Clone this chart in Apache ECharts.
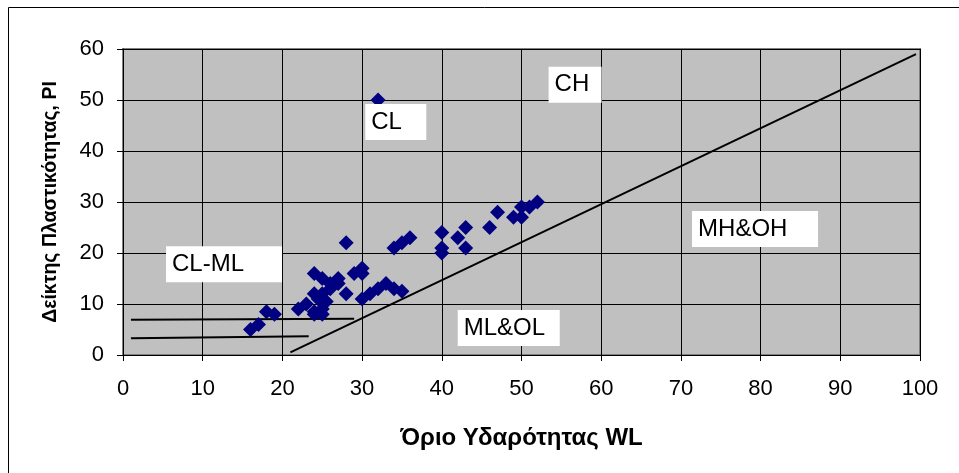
<!DOCTYPE html>
<html>
<head>
<meta charset="utf-8">
<script src="https://cdn.jsdelivr.net/npm/echarts@6/dist/echarts.min.js"></script>
<style>
  html, body { margin: 0; padding: 0; background: #fff; }
  #chart { width: 959px; height: 473px; }
</style>
</head>
<body>
<div id="chart"></div>
<script>
// Liquid limit (WL) of each sample
const liquidLimit = [16, 17, 18, 19, 22, 23, 24, 24, 25, 25, 24.5, 25.5, 24, 25, 26, 28, 24, 25, 27, 26, 27,
  29, 30, 30, 28, 30, 31, 32, 33, 34, 35, 34, 35, 36, 40, 40, 40, 42, 43, 43, 46, 47, 49, 50, 50, 51, 52, 32];
// Plasticity index (PI) of each sample
const plasticityIndex = [5, 6, 8.5, 8, 9, 10, 8, 8.5, 8, 9, 11, 10.5, 12, 12, 13, 12, 16, 15, 15, 14, 14,
  16, 17, 16, 22, 11, 12, 13, 14, 13, 12.5, 21, 22, 23, 24, 21, 20, 23, 25, 21, 25, 28, 27, 29, 27, 29, 30, 50];

// A-line and the two CL-ML boundary lines (end points in WL, PI)
const aLine = [[21, 0.5], [99.5, 59]];
const upperBoundary = [[1, 6.9], [29, 7.1]];
const lowerBoundary = [[1, 3.3], [23.3, 3.7]];

// Soil-group zone names and their anchor (left edge of the box) in WL, PI
const zoneNames = ['CH', 'CL', 'CL-ML', 'MH&OH', 'ML&OL'];
const zoneWL = [53.4, 30.4, 5.4, 71.4, 42.0];
const zonePI = [53.0, 45.7, 17.8, 24.7, 5.3];

const xTicks = [0, 100, 10];
const yTicks = [0, 60, 10];

const FONT = '"Liberation Sans", Arial, sans-serif';
const zoneBoxWidth = { 'CH': 47, 'CL': 55, 'CL-ML': 110, 'MH&OH': 120, 'ML&OL': 96 };

const samples = liquidLimit.map((x, i) => [x, plasticityIndex[i]]);
const zones = zoneNames.map((n, i) => ({
  name: n,
  value: [zoneWL[i], zonePI[i]],
  label: { width: zoneBoxWidth[n] }
}));

const boundaryLine = (data) => ({
  type: 'line', data, symbol: 'none', silent: true,
  lineStyle: { color: '#000', width: 2, opacity: 1 }, z: 3
});

const chart = echarts.init(document.getElementById('chart'), null, { renderer: 'canvas' });
chart.setOption({
  animation: false,
  backgroundColor: '#fff',
  textStyle: { fontFamily: FONT },
  graphic: [{
    type: 'rect',
    shape: { x: 8.5, y: 7.5, width: 1000, height: 600 },
    style: { fill: 'none', stroke: '#000', lineWidth: 1 },
    z: -1
  }],
  grid: {
    left: 123, top: 49, right: 39, bottom: 118,
    show: true, backgroundColor: '#C0C0C0', borderColor: '#808080', borderWidth: 2
  },
  xAxis: {
    type: 'value', min: xTicks[0], max: xTicks[1], interval: xTicks[2],
    name: 'Όριο Υδαρότητας WL', nameLocation: 'middle', nameGap: 71,
    nameTextStyle: { fontFamily: FONT, fontSize: 24, fontWeight: 'bold', color: '#000' },
    axisLine: { lineStyle: { color: '#000', width: 1 } },
    axisTick: { show: true, length: 6, lineStyle: { color: '#000' } },
    axisLabel: { fontFamily: FONT, fontSize: 22, color: '#000', margin: 23 },
    splitLine: { show: true, lineStyle: { color: '#000', width: 1 } }
  },
  yAxis: {
    type: 'value', min: yTicks[0], max: yTicks[1], interval: yTicks[2],
    name: 'Δείκτης Πλαστικότητας, PI', nameLocation: 'middle', nameGap: 62,
    nameTextStyle: { fontFamily: FONT, fontSize: 19.5, fontWeight: 'bold', color: '#000' },
    axisLine: { show: true, lineStyle: { color: '#000', width: 1 } },
    axisTick: { show: true, length: 6, lineStyle: { color: '#000' } },
    axisLabel: { fontFamily: FONT, fontSize: 22, color: '#000', margin: 19 },
    splitLine: { show: true, lineStyle: { color: '#000', width: 1 } }
  },
  series: [
    boundaryLine(aLine),
    boundaryLine(upperBoundary),
    boundaryLine(lowerBoundary),
    {
      type: 'scatter', data: samples, symbol: 'diamond', symbolSize: 15,
      itemStyle: { color: '#000080', opacity: 1 }, z: 4
    },
    {
      type: 'scatter', data: zones, symbolSize: 0, silent: true, z: 5,
      itemStyle: { opacity: 1 },
      label: {
        show: true, position: 'inside', align: 'left', verticalAlign: 'middle',
        formatter: (p) => p.name,
        fontFamily: FONT, fontSize: 24, color: '#000', opacity: 1,
        backgroundColor: '#fff', padding: [0, 0, 0, 6], height: 36, lineHeight: 36
      }
    }
  ]
});
</script>
</body>
</html>
